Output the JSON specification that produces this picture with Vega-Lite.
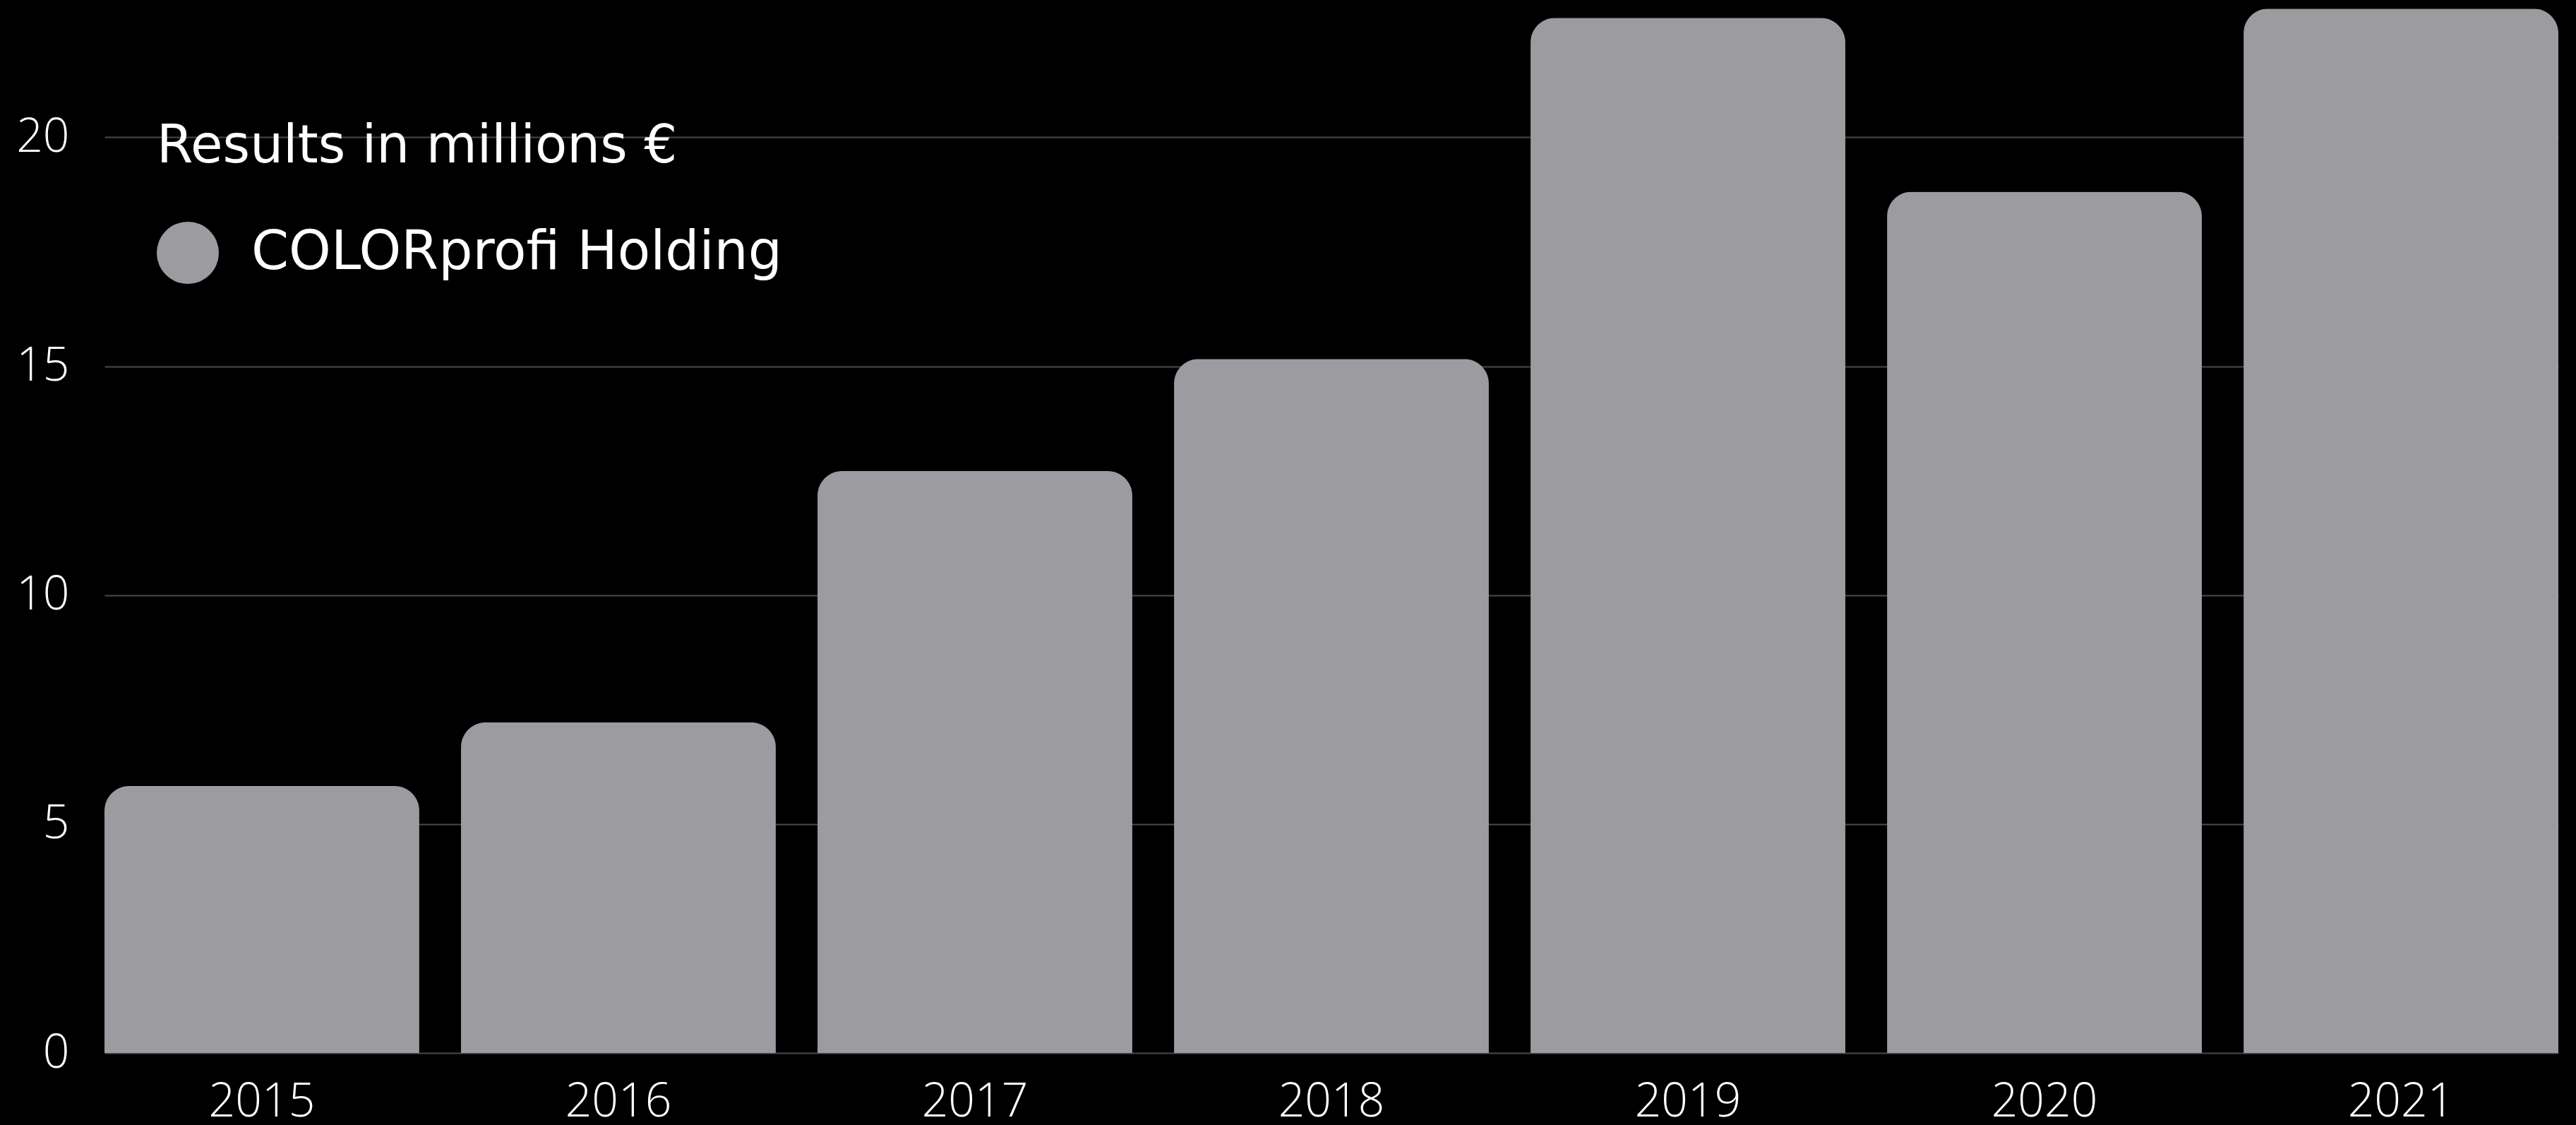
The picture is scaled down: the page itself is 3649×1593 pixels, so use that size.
{
  "$schema": "https://vega.github.io/schema/vega-lite/v6.json",
  "autosize": "none",
  "width": 3476,
  "height": 1491,
  "padding": {"left": 148, "top": 0, "right": 25, "bottom": 102},
  "background": "#000000",
  "data": {
    "values": [
      {"year": "2015", "value": 5.83, "series": "COLORprofi Holding"},
      {"year": "2016", "value": 7.22, "series": "COLORprofi Holding"},
      {"year": "2017", "value": 12.71, "series": "COLORprofi Holding"},
      {"year": "2018", "value": 15.16, "series": "COLORprofi Holding"},
      {"year": "2019", "value": 22.61, "series": "COLORprofi Holding"},
      {"year": "2020", "value": 18.81, "series": "COLORprofi Holding"},
      {"year": "2021", "value": 22.81, "series": "COLORprofi Holding"}
    ]
  },
  "mark": {"type": "bar", "cornerRadiusTopLeft": 35, "cornerRadiusTopRight": 35},
  "encoding": {
    "x": {
      "field": "year",
      "type": "nominal",
      "scale": {"paddingInner": 0.117, "paddingOuter": 0},
      "axis": {
        "title": null,
        "labelAngle": 0,
        "domain": false,
        "ticks": false,
        "labelFont": "Open Sans",
        "labelFontWeight": 300,
        "labelFontSize": 66,
        "labelColor": "#ffffff",
        "labelPadding": 37
      }
    },
    "y": {
      "field": "value",
      "type": "quantitative",
      "scale": {"domain": [0, 23], "nice": false},
      "axis": {
        "title": null,
        "values": [0, 5, 10, 15, 20],
        "domain": false,
        "ticks": false,
        "grid": true,
        "gridColor": "#4a4a4a",
        "gridWidth": 2,
        "labelFont": "Open Sans",
        "labelFontWeight": 300,
        "labelFontSize": 66,
        "labelColor": "#ffffff",
        "labelPadding": 50
      }
    },
    "color": {
      "field": "series",
      "type": "nominal",
      "scale": {"range": ["#9c9b9f"]},
      "legend": {
        "title": "Results in millions €",
        "orient": "none",
        "legendX": 74,
        "legendY": 172,
        "padding": 0,
        "titleFont": "DejaVu Sans",
        "titleFontSize": 74,
        "titleFontWeight": "normal",
        "titleColor": "#ffffff",
        "titleLimit": 3000,
        "titlePadding": 68,
        "symbolType": "circle",
        "symbolSize": 7744,
        "symbolStrokeWidth": 0,
        "symbolOpacity": 1,
        "labelFont": "DejaVu Sans",
        "labelFontSize": 76,
        "labelColor": "#ffffff",
        "labelOffset": 46,
        "labelLimit": 3000
      }
    }
  },
  "config": {
    "view": {"stroke": null},
    "axis": {"gridOpacity": 1}
  }
}
